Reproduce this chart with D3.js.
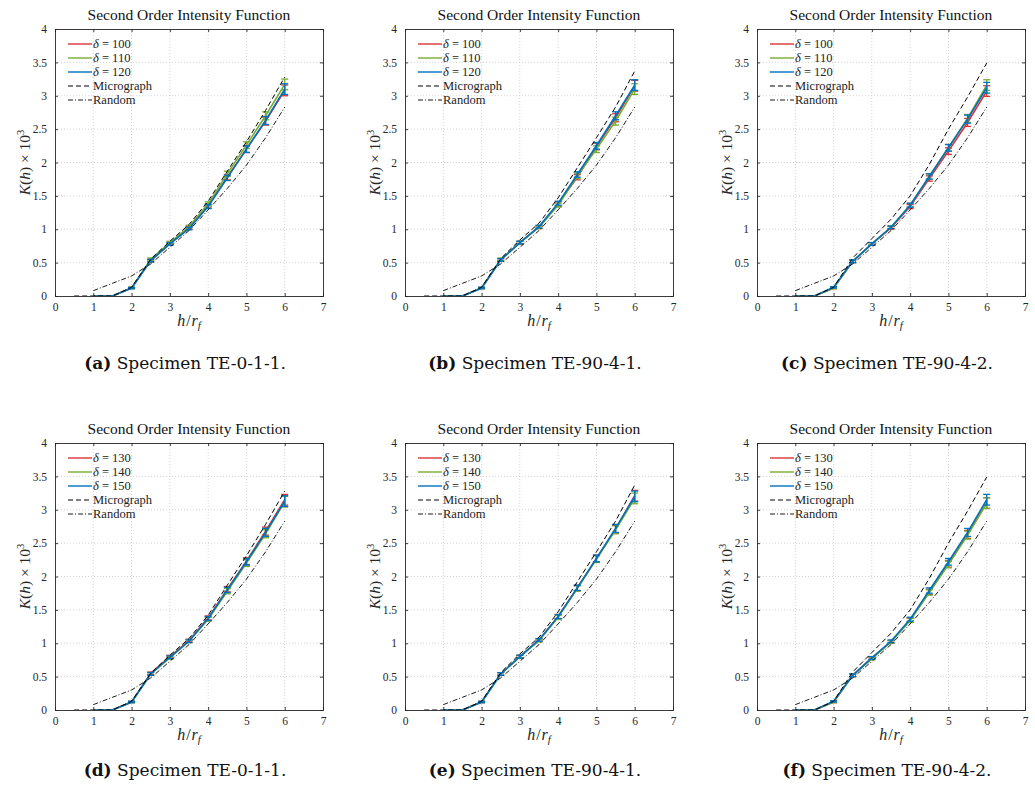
<!DOCTYPE html>
<html><head><meta charset="utf-8">
<script src="https://cdn.jsdelivr.net/npm/d3@7"></script>
<style>
body{margin:0;background:#fff;}
svg{display:block;}
</style></head>
<body>
<svg id="chart" width="1035" height="791"></svg>
<script>
// ---------- data ----------
const hSeries = [1,1.5,2,2.5,3,3.5,4,4.5,5,5.5,6];
const hMicro  = [0.5,1,1.5,2,2.5,3,3.5,4,4.5,5,5.5,6];
const hRandom = [1,1.5,2,2.5,3,3.5,4,4.5,5,5.5,6];
const xTicks = [0,1,2,3,4,5,6,7];
const yTicks = [0,0.5,1,1.5,2,2.5,3,3.5,4];
const yTickLabels = ["0","0.5","1","1.5","2","2.5","3","3.5","4"];

const randomK = [0.08,0.19,0.30,0.48,0.73,0.98,1.29,1.61,1.96,2.37,2.83];

const errA = [0,0,0.01,0.02,0.02,0.02,0.03,0.04,0.05,0.06,0.08];

const aRed   = [0,0,0.12,0.53,0.78,1.02,1.35,1.78,2.20,2.62,3.08];
const aGreen = [0,0,0.12,0.55,0.80,1.04,1.38,1.83,2.26,2.70,3.17];
const aBlue  = [0,0,0.12,0.53,0.78,1.01,1.34,1.77,2.20,2.63,3.10];
const aMicro = [0,0,0,0.13,0.55,0.82,1.07,1.42,1.87,2.31,2.78,3.28];

const bRed   = [0,0,0.12,0.54,0.80,1.03,1.38,1.78,2.24,2.67,3.15];
const bGreen = [0,0,0.12,0.55,0.80,1.03,1.36,1.80,2.20,2.62,3.10];
const bBlue  = [0,0,0.12,0.54,0.80,1.04,1.39,1.82,2.25,2.70,3.16];
const bMicro = [0,0,0,0.13,0.56,0.84,1.09,1.47,1.92,2.37,2.83,3.37];

const cRed   = [0,0,0.12,0.52,0.78,1.02,1.34,1.76,2.17,2.60,3.07];
const cGreen = [0,0,0.12,0.52,0.78,1.03,1.36,1.79,2.22,2.66,3.16];
const cBlue  = [0,0,0.13,0.52,0.78,1.03,1.36,1.79,2.22,2.65,3.12];
const cMicro = [0,0,0,0.13,0.57,0.86,1.15,1.50,1.97,2.50,2.98,3.49];

const dRed   = [0,0,0.12,0.55,0.80,1.04,1.38,1.81,2.23,2.68,3.15];
const dGreen = [0,0,0.12,0.54,0.78,1.03,1.36,1.78,2.20,2.64,3.12];
const dBlue  = [0,0,0.12,0.54,0.79,1.03,1.37,1.80,2.22,2.66,3.13];
const dMicro = [0,0,0,0.13,0.55,0.82,1.07,1.42,1.87,2.31,2.78,3.28];

const eRed   = [0,0,0.12,0.54,0.80,1.05,1.40,1.83,2.27,2.71,3.21];
const eGreen = [0,0,0.12,0.54,0.80,1.04,1.39,1.82,2.26,2.70,3.17];
const eBlue  = [0,0,0.12,0.54,0.80,1.05,1.40,1.83,2.27,2.72,3.20];
const eMicro = [0,0,0,0.13,0.56,0.84,1.09,1.47,1.92,2.37,2.83,3.37];

const fRed   = [0,0,0.12,0.52,0.78,1.02,1.35,1.77,2.19,2.63,3.10];
const fGreen = [0,0,0.12,0.52,0.77,1.02,1.34,1.76,2.18,2.62,3.10];
const fBlue  = [0,0,0.13,0.52,0.78,1.03,1.36,1.79,2.22,2.66,3.15];
const fMicro = [0,0,0,0.13,0.57,0.86,1.15,1.50,1.97,2.50,2.98,3.49];

const deltasTop = ["100","110","120"];
const deltasBottom = ["130","140","150"];
const captionLetters = ["a","b","c","d","e","f"];
const captionTexts = ["Specimen TE-0-1-1.","Specimen TE-90-4-1.","Specimen TE-90-4-2.",
                      "Specimen TE-0-1-1.","Specimen TE-90-4-1.","Specimen TE-90-4-2."];
const titleText = "Second Order Intensity Function";
const seriesColors = ["#d9343c","#77ac30","#0072bd"];

const panels = [
  {series:[aRed,aGreen,aBlue], micro:aMicro, deltas:deltasTop},
  {series:[bRed,bGreen,bBlue], micro:bMicro, deltas:deltasTop},
  {series:[cRed,cGreen,cBlue], micro:cMicro, deltas:deltasTop},
  {series:[dRed,dGreen,dBlue], micro:dMicro, deltas:deltasBottom},
  {series:[eRed,eGreen,eBlue], micro:eMicro, deltas:deltasBottom},
  {series:[fRed,fGreen,fBlue], micro:fMicro, deltas:deltasBottom},
];

// ---------- layout ----------
const SERIF = '"Liberation Serif", "DejaVu Serif", serif';
const CAPFONT = '"DejaVu Serif", "Liberation Serif", serif';
const lefts = [55, 405, 757];
const tops = [29, 443];
const W = 268, H = 267;

const svg = d3.select("#chart");

panels.forEach((p, i) => {
  const col = i % 3, row = Math.floor(i / 3);
  const g = svg.append("g").attr("transform", `translate(${lefts[col]},${tops[row]})`);
  const x = d3.scaleLinear().domain([0,7]).range([0,W]);
  const y = d3.scaleLinear().domain([0,4]).range([H,0]);

  // grid
  const grid = g.append("g");
  grid.selectAll("line.gx").data(xTicks.slice(1,-1)).join("line")
    .attr("x1",d=>x(d)).attr("x2",d=>x(d)).attr("y1",0).attr("y2",H)
    .attr("stroke","#c8c8c8").attr("stroke-width",0.8).attr("stroke-dasharray","1,2");
  grid.selectAll("line.gy").data(yTicks.slice(1,-1)).join("line")
    .attr("x1",0).attr("x2",W).attr("y1",d=>y(d)).attr("y2",d=>y(d))
    .attr("stroke","#c8c8c8").attr("stroke-width",0.8).attr("stroke-dasharray","1,2");

  const clip = "clip"+i;
  g.append("clipPath").attr("id",clip).append("rect").attr("width",W).attr("height",H);
  const plot = g.append("g").attr("clip-path",`url(#${clip})`);

  // series with error bars
  p.series.forEach((vals, si) => {
    const pts = hSeries.map((h,k)=>({h, v:vals[k], e:errA[k]}));
    plot.append("path").datum(pts)
      .attr("fill","none").attr("stroke",seriesColors[si]).attr("stroke-width",1.6)
      .attr("d", d3.line().x(d=>x(d.h)).y(d=>y(d.v)));
    const eb = plot.append("g").attr("stroke",seriesColors[si]).attr("stroke-width",1.3);
    const ePts = pts.filter(d=>d.h>=2);
    eb.selectAll("line.v").data(ePts).join("line")
      .attr("x1",d=>x(d.h)).attr("x2",d=>x(d.h))
      .attr("y1",d=>y(d.v-d.e)).attr("y2",d=>y(d.v+d.e));
    eb.selectAll("line.t").data(ePts).join("line")
      .attr("x1",d=>x(d.h)-3.5).attr("x2",d=>x(d.h)+3.5)
      .attr("y1",d=>y(d.v+d.e)).attr("y2",d=>y(d.v+d.e));
    eb.selectAll("line.b").data(ePts).join("line")
      .attr("x1",d=>x(d.h)-3.5).attr("x2",d=>x(d.h)+3.5)
      .attr("y1",d=>y(d.v-d.e)).attr("y2",d=>y(d.v-d.e));
  });

  // micrograph
  plot.append("path").datum(hMicro.map((h,k)=>[h,p.micro[k]]))
    .attr("fill","none").attr("stroke","#000").attr("stroke-width",1)
    .attr("stroke-dasharray","5,3")
    .attr("d", d3.line().x(d=>x(d[0])).y(d=>y(d[1])));
  // random
  plot.append("path").datum(hRandom.map((h,k)=>[h,randomK[k]]))
    .attr("fill","none").attr("stroke","#000").attr("stroke-width",0.9)
    .attr("stroke-dasharray","5,2,1,2")
    .attr("d", d3.line().x(d=>x(d[0])).y(d=>y(d[1])));

  // axes
  const axColor = "#262626";
  const xb = g.append("g").attr("transform",`translate(0,${H})`)
    .call(d3.axisBottom(x).tickValues(xTicks).tickSize(-3).tickPadding(7).tickFormat(d3.format("d")));
  const xt = g.append("g")
    .call(d3.axisTop(x).tickValues(xTicks).tickSize(-3).tickFormat(""));
  const yl = g.append("g")
    .call(d3.axisLeft(y).tickValues(yTicks).tickSize(-3).tickPadding(8).tickFormat((d,k)=>yTickLabels[k]));
  const yr = g.append("g").attr("transform",`translate(${W},0)`)
    .call(d3.axisRight(y).tickValues(yTicks).tickSize(-3).tickFormat(""));
  [xb,xt,yl,yr].forEach(a=>{
    a.attr("font-family", SERIF).attr("font-size", 11.5);
    a.select(".domain").attr("stroke",axColor).attr("stroke-width",0.9);
    a.selectAll(".tick line").attr("stroke",axColor).attr("stroke-width",0.9);
    a.selectAll(".tick text").attr("fill",axColor);
  });

  // title
  g.append("text").attr("x",W/2).attr("y",-9).attr("text-anchor","middle")
    .attr("font-size",15.5).attr("fill","#111").text(titleText);

  // x label h/r_f
  const xlab = g.append("text").attr("x",W/2).attr("y",H+30).attr("text-anchor","middle")
    .attr("font-size",16).attr("font-style","italic").attr("fill","#262626");
  xlab.append("tspan").text("h");
  xlab.append("tspan").attr("font-style","normal").attr("dx",1).text("/");
  xlab.append("tspan").attr("dx",1).text("r");
  xlab.append("tspan").attr("dy",3).attr("font-size",11).text("f");

  // y label
  const ylab = g.append("text")
    .attr("transform",`translate(${-25},${H/2}) rotate(-90)`)
    .attr("text-anchor","middle").attr("font-size",15.5).attr("fill","#262626");
  ylab.append("tspan").attr("font-style","italic").text("K");
  ylab.append("tspan").text("(");
  ylab.append("tspan").attr("font-style","italic").text("h");
  ylab.append("tspan").text(") × 10");
  ylab.append("tspan").attr("dy",-6).attr("font-size",10.5).text("3");

  // legend
  const lg = g.append("g").attr("transform","translate(13,15)");
  const items = [
    {color:seriesColors[0], dash:null, w:1.4},
    {color:seriesColors[1], dash:null, w:1.4},
    {color:seriesColors[2], dash:null, w:1.4},
    {label:"Micrograph", color:"#000", dash:"5,3", w:1},
    {label:"Random", color:"#000", dash:"5,2,1,2", w:0.9},
  ];
  items.forEach((it,k)=>{
    const r = lg.append("g").attr("transform",`translate(0,${k*14})`);
    r.append("line").attr("x1",0).attr("x2",24).attr("y1",0).attr("y2",0)
      .attr("stroke",it.color).attr("stroke-width",it.w)
      .attr("stroke-dasharray",it.dash);
    const t = r.append("text").attr("x",25).attr("y",4).attr("font-size",12.5).attr("fill","#222");
    if (k<3){
      t.append("tspan").attr("font-style","italic").text("δ");
      t.append("tspan").text(" = "+p.deltas[k]);
    } else {
      t.text(it.label);
    }
  });

  // caption
  const cap = svg.append("text").attr("class","caption")
    .attr("x", lefts[col] + W/2 - 4)
    .attr("y", row===0 ? 369 : 776)
    .attr("text-anchor","middle")
    .attr("font-size",17).attr("fill","#111");
  cap.append("tspan").attr("font-weight","bold").text("("+captionLetters[i]+")");
  cap.append("tspan").text(" "+captionTexts[i]);
});

svg.selectAll("text").style("font-family", SERIF);
svg.selectAll("text.caption").style("font-family", CAPFONT);
</script>
</body></html>
